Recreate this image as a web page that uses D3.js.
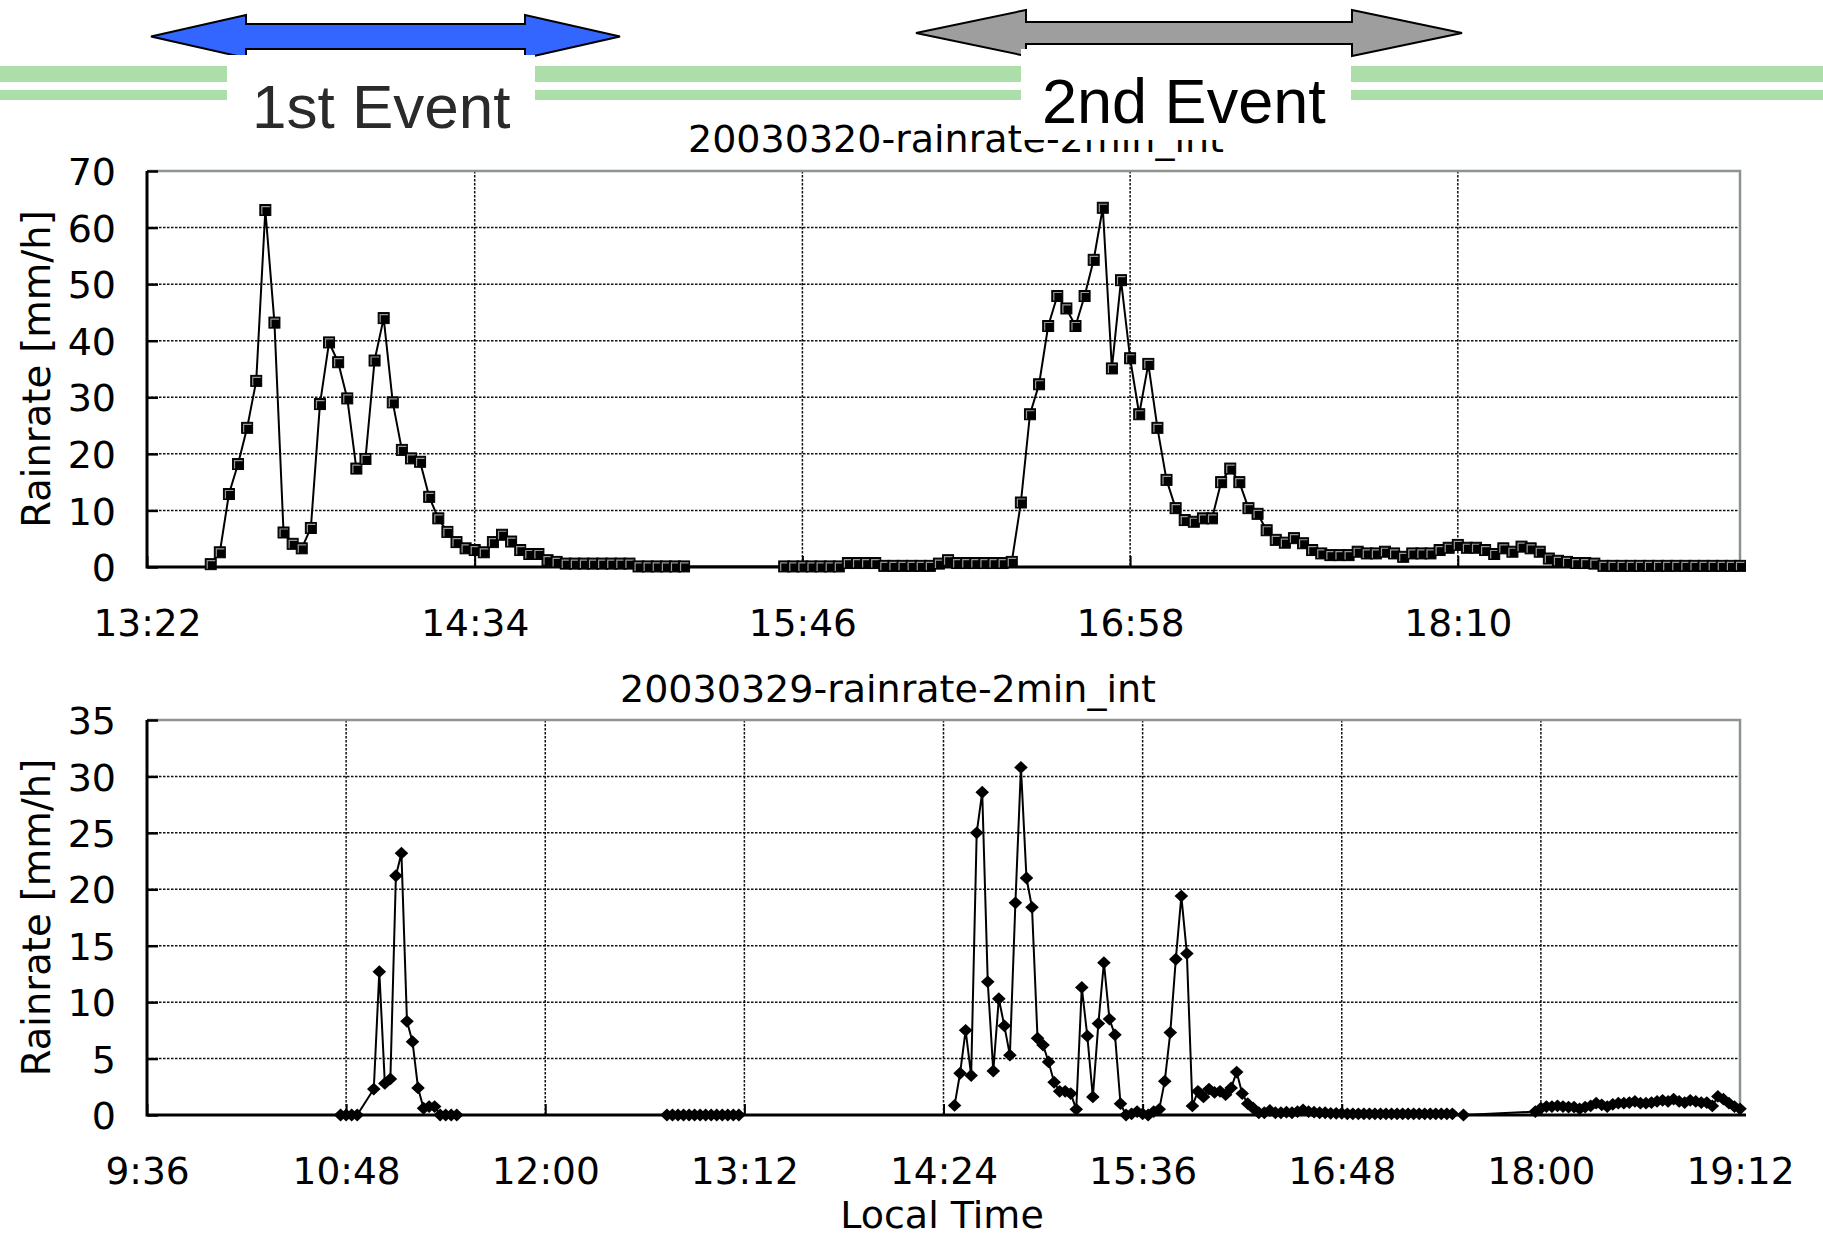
<!DOCTYPE html>
<html>
<head>
<meta charset="utf-8">
<script src="https://cdn.jsdelivr.net/npm/d3@7"></script>
<style>
  html, body { margin: 0; padding: 0; background: #fff; }
  svg { display: block; }
</style>
</head>
<body>
<svg id="chart" width="1823" height="1236"></svg>
<script>
// ---------------------------------------------------------------
// 2003-03-20: rain rate, 2-minute integration (local time, mm/h)
// ---------------------------------------------------------------
const timesMar20 = [
  "13:36","13:38","13:40","13:42","13:44","13:46","13:48","13:50","13:52","13:54","13:56","13:58",
  "14:00","14:02","14:04","14:06","14:08","14:10","14:12","14:14","14:16","14:18","14:20","14:22","14:24","14:26","14:28","14:30","14:32","14:34","14:36","14:38","14:40","14:42","14:44","14:46","14:48","14:50","14:52","14:54","14:56","14:58",
  "15:00","15:02","15:04","15:06","15:08","15:10","15:12","15:14","15:16","15:18","15:20",
  "15:42","15:44","15:46","15:48","15:50","15:52","15:54","15:56","15:58",
  "16:00","16:02","16:04","16:06","16:08","16:10","16:12","16:14","16:16","16:18","16:20","16:22","16:24","16:26","16:28","16:30","16:32","16:34","16:36","16:38","16:40","16:42","16:44","16:46","16:48","16:50","16:52","16:54","16:56","16:58",
  "17:00","17:02","17:04","17:06","17:08","17:10","17:12","17:14","17:16","17:18","17:20","17:22","17:24","17:26","17:28","17:30","17:32","17:34","17:36","17:38","17:40","17:42","17:44","17:46","17:48","17:50","17:52","17:54","17:56","17:58",
  "18:00","18:02","18:04","18:06","18:08","18:10","18:12","18:14","18:16","18:18","18:20","18:22","18:24","18:26","18:28","18:30","18:32","18:34","18:36","18:38","18:40","18:42","18:44","18:46","18:48","18:50","18:52","18:54","18:56","18:58",
  "19:00","19:02","19:04","19:06","19:08","19:10","19:12"
];
const rainMar20 = [
  0.5, 2.6, 12.9, 18.2, 24.6, 32.9, 63.1, 43.2, 6.1, 4.1, 3.3, 6.9,
  28.8, 39.7, 36.2, 29.8, 17.4, 19.1, 36.5, 44.0, 29.1, 20.7, 19.2, 18.6, 12.4, 8.6, 6.2, 4.4, 3.3, 3.0, 2.6, 4.4, 5.7, 4.5, 3.0, 2.3, 2.3, 1.2, 0.9, 0.6, 0.6, 0.6,
  0.6, 0.6, 0.6, 0.6, 0.6, 0.1, 0.1, 0.1, 0.1, 0.1, 0.1,
  0.1, 0.1, 0.1, 0.1, 0.1, 0.1, 0.1, 0.7, 0.7,
  0.7, 0.7, 0.2, 0.2, 0.2, 0.2, 0.2, 0.2, 0.6, 1.2, 0.7, 0.7, 0.7, 0.7, 0.7, 0.7, 0.9, 11.4, 27.0, 32.3, 42.6, 47.9, 45.7, 42.6, 47.9, 54.3, 63.5, 35.1, 50.7, 36.9,
  27.0, 35.9, 24.6, 15.4, 10.4, 8.3, 8.0, 8.6, 8.6, 15.0, 17.4, 15.0, 10.4, 9.4, 6.5, 4.8, 4.3, 5.1, 4.2, 3.0, 2.4, 2.1, 2.1, 2.1, 2.7, 2.4, 2.4, 2.7, 2.4, 1.8,
  2.4, 2.4, 2.4, 3.0, 3.4, 3.9, 3.4, 3.4, 3.0, 2.3, 3.3, 2.7, 3.6, 3.3, 2.7, 1.5, 1.1, 0.9, 0.7, 0.7, 0.6, 0.2, 0.2, 0.2, 0.2, 0.2, 0.2, 0.2, 0.2, 0.2,
  0.2, 0.2, 0.2, 0.2, 0.2, 0.2, 0.2
];

// ---------------------------------------------------------------
// 2003-03-29: rain rate, 2-minute integration (local time, mm/h)
// ---------------------------------------------------------------
const timesMar29 = [
  "10:46","10:48","10:50","10:52","10:58",
  "11:00","11:02","11:04","11:06","11:08","11:10","11:12","11:14","11:16","11:18","11:20","11:22","11:24","11:26","11:28",
  "12:44","12:46","12:48","12:50","12:52","12:54","12:56","12:58",
  "13:00","13:02","13:04","13:06","13:08","13:10",
  "14:28","14:30","14:32","14:34","14:36","14:38","14:40","14:42","14:44","14:46","14:48","14:50","14:52","14:54","14:56","14:58",
  "15:00","15:02","15:04","15:06","15:08","15:10","15:12","15:14","15:16","15:18","15:20","15:22","15:24","15:26","15:28","15:30","15:32","15:34","15:36","15:38","15:40","15:42","15:44","15:46","15:48","15:50","15:52","15:54","15:56","15:58",
  "16:00","16:02","16:04","16:06","16:08","16:10","16:12","16:14","16:16","16:18","16:20","16:22","16:24","16:26","16:28","16:30","16:32","16:34","16:36","16:38","16:40","16:42","16:44","16:46","16:48","16:50","16:52","16:54","16:56","16:58",
  "17:00","17:02","17:04","17:06","17:08","17:10","17:12","17:14","17:16","17:18","17:20","17:22","17:24","17:26","17:28","17:32","17:58",
  "18:00","18:02","18:04","18:06","18:08","18:10","18:12","18:14","18:16","18:18","18:20","18:22","18:24","18:26","18:28","18:30","18:32","18:34","18:36","18:38","18:40","18:42","18:44","18:46","18:48","18:50","18:52","18:54","18:56","18:58",
  "19:00","19:02","19:04","19:06","19:08","19:10","19:12"
];
const rainMar29 = [
  0, 0, 0, 0, 2.3,
  12.7, 2.8, 3.2, 21.2, 23.2, 8.3, 6.5, 2.4, 0.6, 0.75, 0.75, 0, 0, 0, 0,
  0, 0, 0, 0, 0, 0, 0, 0,
  0, 0, 0, 0, 0, 0,
  0.85, 3.7, 7.5, 3.5, 25.0, 28.6, 11.8, 3.9, 10.3, 7.9, 5.3, 18.8, 30.8, 21.0, 18.4, 6.8,
  6.2, 4.7, 2.9, 2.1, 2.1, 1.9, 0.5, 11.3, 7.0, 1.6, 8.1, 13.5, 8.5, 7.1, 1.0, 0, 0.1, 0.3, 0.1, 0, 0.3, 0.5, 3.0, 7.3, 13.8, 19.4, 14.3, 0.8, 2.1, 1.6,
  2.3, 2.0, 2.1, 1.8, 2.4, 3.8, 1.9, 1.0, 0.6, 0.2, 0.2, 0.4, 0.2, 0.2, 0.25, 0.2, 0.3, 0.45, 0.3, 0.25, 0.2, 0.2, 0.15, 0.15, 0.15, 0.1, 0.1, 0.1, 0.1, 0.1,
  0.1, 0.1, 0.1, 0.1, 0.1, 0.1, 0.1, 0.1, 0.1, 0.1, 0.1, 0.1, 0.1, 0.1, 0.1, 0, 0.3,
  0.6, 0.75, 0.75, 0.8, 0.75, 0.7, 0.7, 0.55, 0.7, 0.8, 1.05, 0.9, 0.75, 0.95, 1.05, 1.05, 1.1, 1.2, 1.05, 1.05, 1.1, 1.2, 1.3, 1.2, 1.4, 1.2, 1.1, 1.3, 1.2, 1.1,
  1.1, 0.8, 1.65, 1.4, 1.05, 0.75, 0.55
];
// samples where the trace restarts after a recording gap
const lineBreaksMar29 = ["14:28"];
const lineBreaksMar20 = [];

// axis ticks
const xTicksMar20 = ["13:22","14:34","15:46","16:58","18:10"];
const xTicksMar29 = ["9:36","10:48","12:00","13:12","14:24","15:36","16:48","18:00","19:12"];
const yTicksMar20 = [0, 10, 20, 30, 40, 50, 60, 70];
const yTicksMar29 = [0, 5, 10, 15, 20, 25, 30, 35];

// header labels
const eventNames = ["1st Event", "2nd Event"];

// ---------------------------------------------------------------
const toMin = s => { const [h, m] = s.split(":").map(Number); return h * 60 + m; };

const svg = d3.select("#chart");
svg.append("rect").attr("width", 1823).attr("height", 1236).attr("fill", "#fff");

const FONT = "'DejaVu Sans', Verdana, sans-serif";
const FS = 38;

function drawPanel(cfg) {
  const x = d3.scaleLinear().domain(cfg.xDomain.map(toMin)).range([cfg.left, cfg.right]);
  const y = d3.scaleLinear().domain([0, cfg.yMax]).range([cfg.bottom, cfg.top]);
  const g = svg.append("g");

  // title
  g.append("text")
    .attr("x", cfg.titleX).attr("y", cfg.titleY)
    .attr("text-anchor", "middle")
    .attr("font-family", FONT).attr("font-size", FS)
    .attr("fill", "#000")
    .text(cfg.title);

  // dashed grid
  const grid = g.append("g").attr("stroke", "#111").attr("stroke-width", 1.5)
    .attr("stroke-dasharray", "2.5,1.5");
  grid.selectAll("line.h").data(cfg.yTicks.filter(v => v > 0 && v < cfg.yMax))
    .join("line").attr("class", "h")
    .attr("x1", cfg.left).attr("x2", cfg.right)
    .attr("y1", d => y(d)).attr("y2", d => y(d));
  const xDom = cfg.xDomain.map(toMin);
  grid.selectAll("line.v").data(cfg.xTicks.map(toMin).filter(m => m > xDom[0] && m < xDom[1]))
    .join("line").attr("class", "v")
    .attr("y1", cfg.top).attr("y2", cfg.bottom)
    .attr("x1", d => x(d)).attr("x2", d => x(d));

  // frame: grey top/right, black left/bottom
  g.append("path")
    .attr("d", `M${cfg.left},${cfg.top}H${cfg.right}V${cfg.bottom}`)
    .attr("fill", "none").attr("stroke", "#8d948f").attr("stroke-width", 2.5);

  // y axis (ticks pointing inward)
  const yAxis = d3.axisLeft(y).tickValues(cfg.yTicks).tickSizeInner(-11).tickSizeOuter(0).tickPadding(31);
  const ya = g.append("g").attr("transform", `translate(${cfg.left},0)`).call(yAxis);
  ya.select(".domain").remove();
  ya.selectAll(".tick line").attr("stroke", "#000").attr("stroke-width", 2.5);
  ya.selectAll(".tick text").attr("font-family", FONT).attr("font-size", FS).attr("fill", "#000").attr("dy", "0.36em");

  // x axis (ticks pointing inward)
  const xAxis = d3.axisBottom(x).tickValues(cfg.xTicks.map(toMin)).tickSizeInner(-11).tickSizeOuter(0).tickPadding(42)
    .tickFormat((d, i) => cfg.xTicks[i]);
  const xa = g.append("g").attr("transform", `translate(0,${cfg.bottom})`).call(xAxis);
  xa.select(".domain").remove();
  xa.selectAll(".tick line").attr("stroke", "#000").attr("stroke-width", 2);
  xa.selectAll(".tick text").attr("font-family", FONT).attr("font-size", 37.5).attr("fill", "#000");

  g.append("path")
    .attr("d", `M${cfg.left},${cfg.top}V${cfg.bottom}H${cfg.right + 6}`)
    .attr("fill", "none").attr("stroke", "#000").attr("stroke-width", 3);

  // y label
  const cy = (cfg.top + cfg.bottom) / 2;
  g.append("text")
    .attr("transform", `translate(36,${cy}) rotate(-90)`)
    .attr("text-anchor", "middle").attr("dominant-baseline", "central")
    .attr("font-family", FONT).attr("font-size", 38.5).attr("fill", "#000")
    .text("Rainrate [mm/h]");

  // series, split at recording gaps
  const breaks = new Set(cfg.breaks.map(toMin));
  const pts = cfg.times.map((t, i) => ({ t: toMin(t), v: cfg.rain[i] }));
  const runs = [];
  pts.forEach(p => {
    if (!runs.length || breaks.has(p.t)) runs.push([]);
    runs[runs.length - 1].push(p);
  });
  const line = d3.line().x(d => x(d.t)).y(d => y(d.v));
  g.append("g").selectAll("path").data(runs).join("path").attr("d", line)
    .attr("fill", "none").attr("stroke", "#000").attr("stroke-width", 2).attr("stroke-linejoin", "round");

  const mk = g.append("g");
  if (cfg.marker === "square") {
    const s = 11;
    const m = mk.selectAll("g").data(pts).join("g")
      .attr("transform", d => `translate(${x(d.t)},${y(d.v)})`);
    m.append("rect").attr("x", -s / 2).attr("y", -s / 2).attr("width", s).attr("height", s)
      .attr("fill", "#000").attr("stroke", "#000").attr("stroke-width", 1);
    m.append("path").attr("d", `M${-s / 2 + 2},${s / 2 - 1}V${-s / 2 + 2}H${s / 2 - 1}`)
      .attr("fill", "none").attr("stroke", "#9a9a9a").attr("stroke-width", 1.2);
  } else {
    const w = 6.8, h = 6.4;
    mk.selectAll("path").data(pts).join("path")
      .attr("d", d => {
        const px = x(d.t), py = y(d.v);
        return `M${px - w},${py}L${px},${py - h}L${px + w},${py}L${px},${py + h}Z`;
      })
      .attr("fill", "#000");
  }
}

drawPanel({
  title: "20030320-rainrate-2min_int", titleX: 956, titleY: 152,
  times: timesMar20, rain: rainMar20, breaks: lineBreaksMar20, marker: "square",
  xDomain: ["13:22", "19:12"], xTicks: xTicksMar20,
  yMax: 70, yTicks: yTicksMar20,
  left: 147, right: 1740, top: 171, bottom: 567
});

drawPanel({
  title: "20030329-rainrate-2min_int", titleX: 888, titleY: 702,
  times: timesMar29, rain: rainMar29, breaks: lineBreaksMar29, marker: "diamond",
  xDomain: ["9:36", "19:12"], xTicks: xTicksMar29,
  yMax: 35, yTicks: yTicksMar29,
  left: 147, right: 1740, top: 720, bottom: 1115
});

// "Local Time" axis title
svg.append("text")
  .attr("x", 942).attr("y", 1228)
  .attr("text-anchor", "middle")
  .attr("font-family", FONT).attr("font-size", FS).attr("fill", "#000")
  .text("Local Time");

// ---------------------------------------------------------------
// header: event arrows over green rule, label boxes
// ---------------------------------------------------------------
const head = svg.append("g");
head.append("rect").attr("x", 0).attr("y", 66).attr("width", 1823).attr("height", 16).attr("fill", "#abdea9");
head.append("rect").attr("x", 0).attr("y", 90).attr("width", 1823).attr("height", 10).attr("fill", "#abdea9");

function arrowPath(x0, x1, cy, headLen, headHalf, shaftHalf) {
  const p = d3.path();
  p.moveTo(x0, cy);
  p.lineTo(x0 + headLen, cy - headHalf);
  p.lineTo(x0 + headLen, cy - shaftHalf);
  p.lineTo(x1 - headLen, cy - shaftHalf);
  p.lineTo(x1 - headLen, cy - headHalf);
  p.lineTo(x1, cy);
  p.lineTo(x1 - headLen, cy + headHalf);
  p.lineTo(x1 - headLen, cy + shaftHalf);
  p.lineTo(x0 + headLen, cy + shaftHalf);
  p.lineTo(x0 + headLen, cy + headHalf);
  p.closePath();
  return p.toString();
}

head.append("path").attr("d", arrowPath(151, 620, 36.5, 95, 21.5, 12.5))
  .attr("fill", "#3366ff").attr("stroke", "#000").attr("stroke-width", 2).attr("stroke-linejoin", "miter");
head.append("path").attr("d", arrowPath(916, 1462, 33, 110, 23, 11))
  .attr("fill", "#9e9e9e").attr("stroke", "#000").attr("stroke-width", 2).attr("stroke-linejoin", "miter");

head.append("rect").attr("x", 227).attr("y", 55).attr("width", 308).attr("height", 85).attr("fill", "#fff");
head.append("rect").attr("x", 1021).attr("y", 49).attr("width", 330).attr("height", 91).attr("fill", "#fff");

head.append("text").attr("x", 252).attr("y", 128)
  .attr("font-family", "'Liberation Sans', Arial, sans-serif").attr("font-size", 62).attr("fill", "#2a2a2a")
  .text(eventNames[0]);
head.append("text").attr("x", 1042).attr("y", 123)
  .attr("font-family", "'Liberation Sans', Arial, sans-serif").attr("font-size", 63).attr("fill", "#000")
  .text(eventNames[1]);
</script>
</body>
</html>
